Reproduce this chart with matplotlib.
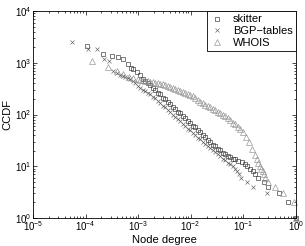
"""CCDF of normalised node degree for three AS-graph sources."""

import matplotlib

matplotlib.use("Agg")
import matplotlib.pyplot as plt  # noqa: E402

plt.rcParams["font.family"] = ["Liberation Sans", "DejaVu Sans"]
plt.rcParams["mathtext.fontset"] = "custom"
plt.rcParams["mathtext.rm"] = "Liberation Sans"
plt.rcParams["mathtext.default"] = "regular"

# values
skitter_x = [1.07e-4, 2.11e-4, 3.18e-4, 4.22e-4, 5.25e-4, 6.31e-4, 7.2e-4, 8.1e-4, 9.6e-4,
             1.08e-3, 1.23e-3, 1.35e-3, 1.54e-3, 1.68e-3, 1.91e-3, 2.09e-3, 2.38e-3, 2.60e-3,
             2.96e-3, 3.23e-3, 3.69e-3, 4.02e-3, 4.59e-3, 5.01e-3, 5.71e-3, 6.23e-3, 7.11e-3,
             7.76e-3, 8.85e-3, 9.66e-3, 1.10e-2, 1.20e-2, 1.37e-2, 1.50e-2, 1.71e-2, 1.86e-2,
             2.12e-2, 2.32e-2, 2.64e-2, 2.89e-2, 3.29e-2, 3.59e-2, 4.10e-2, 4.47e-2, 5.10e-2,
             5.56e-2, 6.34e-2, 6.92e-2, 7.90e-2, 0.093, 0.107, 0.119, 0.134, 0.150, 0.170,
             0.19, 0.247, 0.294, 0.475, 0.714, 1.0]
skitter_y = [2136, 1476, 1330, 1300, 1198, 946, 781, 747, 671,
             580, 496, 454, 406, 372, 325, 297, 266, 244,
             213, 197, 174, 160, 140, 130, 114, 105, 93.5,
             85.6, 74.9, 69.7, 61.3, 56.6, 50.2, 45.9, 40.2, 36.7,
             32.2, 29.4, 26.3, 24.1, 21.5, 20.2, 18.4, 17.2, 15.8,
             15.1, 14.1, 13.5, 12.6, 12, 11, 10, 9, 8, 7,
             6, 5, 4, 3, 2, 1]

bgp_x = [5.51e-5, 1.10e-4, 1.65e-4, 2.20e-4, 2.75e-4, 3.30e-4, 3.95e-4, 4.51e-4, 5.14e-4,
         5.61e-4, 6.40e-4, 6.98e-4, 7.96e-4, 8.69e-4, 9.91e-4, 1.08e-3, 1.23e-3, 1.35e-3,
         1.54e-3, 1.68e-3, 1.91e-3, 2.09e-3, 2.38e-3, 2.60e-3, 2.96e-3, 3.23e-3, 3.69e-3,
         4.02e-3, 4.59e-3, 5.01e-3, 5.71e-3, 6.23e-3, 7.11e-3, 7.76e-3, 8.85e-3, 9.66e-3,
         1.10e-2, 1.20e-2, 1.37e-2, 1.50e-2, 1.71e-2, 1.86e-2, 2.12e-2, 2.32e-2, 2.64e-2,
         2.89e-2, 3.29e-2, 3.59e-2, 4.10e-2, 4.47e-2, 5.10e-2, 5.56e-2, 6.34e-2, 6.92e-2,
         7.6e-2, 8.4e-2, 9.2e-2, 0.117, 0.156, 0.277, 1.0]
bgp_y = [2550, 1880, 1810, 1166, 1096, 700, 634, 593, 567,
         542, 519, 496, 444, 406, 355, 332, 304, 285,
         260, 244, 218, 204, 182, 167, 149, 137, 120,
         112, 97.8, 91.5, 81.9, 74.9, 65.5, 60.0, 53.6, 49.1,
         43.9, 40.2, 35.9, 32.9, 29.4, 26.9, 24.1, 22.5, 20.2,
         18.9, 16.9, 15.8, 14.1, 13.2, 11.8, 11.1, 10, 9,
         8, 7, 6, 5, 4, 3, 1]

whois_x = [1.31e-4, 2.62e-4, 3.94e-4, 5.25e-4, 6.57e-4, 7.96e-4, 9.91e-4, 1.08e-3, 1.23e-3,
           1.35e-3, 1.54e-3, 1.68e-3, 1.91e-3, 2.09e-3, 2.38e-3, 2.60e-3, 2.96e-3, 3.23e-3,
           3.69e-3, 4.02e-3, 4.59e-3, 5.01e-3, 5.71e-3, 6.23e-3, 7.11e-3, 7.76e-3, 8.85e-3,
           9.66e-3, 1.10e-2, 1.20e-2, 1.37e-2, 1.50e-2, 1.71e-2, 1.86e-2, 2.12e-2, 2.32e-2,
           2.64e-2, 2.89e-2, 3.29e-2, 3.59e-2, 4.10e-2, 4.47e-2, 5.10e-2, 5.56e-2, 6.34e-2,
           6.92e-2, 7.90e-2, 8.62e-2, 9.83e-2, 0.112, 0.128, 0.146, 0.166, 0.181, 0.194,
           0.207, 0.221, 0.236, 0.247, 0.258, 0.300, 0.399, 0.574, 0.916, 1.0]
whois_y = [1095, 839, 693, 606, 542, 501, 485, 475, 464,
           454, 444, 434, 425, 415, 406, 397, 384, 372,
           355, 340, 325, 318, 304, 291, 278, 266, 249,
           238, 223, 208, 191, 178, 167, 156, 146, 137,
           128, 120, 112, 105, 99, 93, 84, 78, 70,
           65.5, 57.3, 52.5, 45, 36.7, 29.4, 22, 16.5, 13.8, 11.6,
           10.1, 9, 8, 7, 6, 5, 4, 3, 2, 1]

series_labels = ["skitter", "BGP\u2212tables", "WHOIS"]


def main():
    fig = plt.figure(figsize=(3.05, 2.46), dpi=100)
    ax = fig.add_axes([0.108, 0.114, 0.862, 0.841])

    ax.plot(skitter_x, skitter_y, "s", ms=3.4, mfc="none", mec="#303030", mew=0.45,
            clip_on=False, label=series_labels[0])
    ax.plot(bgp_x, bgp_y, "x", ms=3.0, mec="#606060", mew=0.45,
            clip_on=False, label=series_labels[1])
    ax.plot(whois_x, whois_y, "^", ms=4.2, mfc="none", mec="#909090", mew=0.45,
            clip_on=False, label=series_labels[2])

    ax.set_xscale("log")
    ax.set_yscale("log")
    ax.set_xlim(1e-5, 1)
    ax.set_ylim(1, 1e4)
    ax.set_xlabel("Node degree", fontsize=8)
    ax.set_ylabel("CCDF", fontsize=8)
    ax.xaxis.set_label_coords(0.5, -0.083)
    ax.yaxis.set_label_coords(-0.078, 0.5)

    ax.tick_params(which="both", direction="in", top=True, right=True,
                   labelsize=7, width=0.5, pad=1.2)
    ax.tick_params(which="major", length=3)
    ax.tick_params(which="minor", length=1.6)
    for spine in ax.spines.values():
        spine.set_linewidth(0.6)

    leg = ax.legend(loc="upper right", fontsize=8, borderaxespad=0, fancybox=False,
                    handlelength=1.2, handletextpad=0.8, borderpad=0.3,
                    labelspacing=0.15, framealpha=1)
    leg.get_frame().set_edgecolor("black")
    leg.get_frame().set_linewidth(0.6)

    fig.savefig("out.png", dpi=100)


if __name__ == "__main__":
    main()
